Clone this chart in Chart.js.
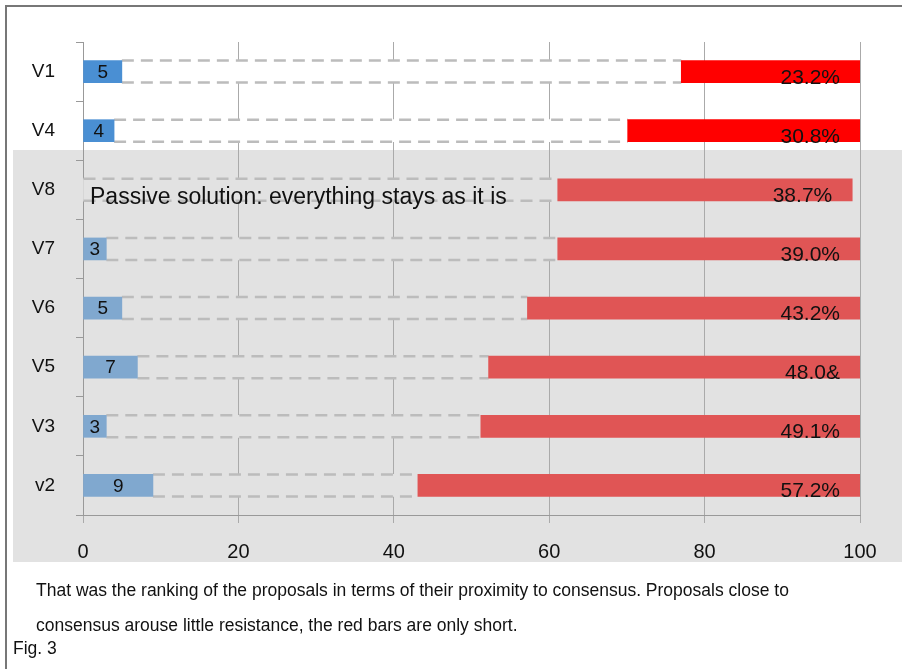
<!DOCTYPE html>
<html>
<head>
<meta charset="utf-8">
<script src="https://cdn.jsdelivr.net/npm/chart.js@4.4.0/dist/chart.umd.min.js"></script>
<style>
body{margin:0;background:#fff;font-family:"Liberation Sans",Arial,sans-serif;}
#wrap{position:relative;width:902px;height:669px;overflow:hidden;}
#frame{position:absolute;left:5px;top:5px;width:897px;height:664px;border-left:2px solid #777;border-top:2px solid #777;box-sizing:border-box;}
#shade{position:absolute;left:13px;top:150px;width:889px;height:412px;background:#e2e2e2;}
canvas{position:absolute;left:0;top:0;}
.cap{position:absolute;font-size:17.5px;line-height:17.5px;color:#111;white-space:nowrap;}
</style>
</head>
<body>
<div id="wrap">
  <div id="frame"></div>
  <div id="shade"></div>
  <canvas id="myChart" width="902" height="669"></canvas>
  <div class="cap" style="left:36px;top:582px">That was the ranking of the proposals in terms of their proximity to consensus. Proposals close to</div>
  <div class="cap" style="left:36px;top:617px">consensus arouse little resistance, the red bars are only short.</div>
  <div class="cap" style="left:13px;top:640px">Fig. 3</div>
</div>
<script>
// proposals, top to bottom
const labels = ['V1','V4','V8','V7','V6','V5','V3','v2'];
// blue bars (count), 0 = no bar
const blueVals = [5,4,0,3,5,7,3,9];
// red bars (resistance share), start and end
const redStart = [77.0,70.1,61.1,61.1,57.2,52.2,51.2,43.1];
const redEnd = [100,100,99,100,100,100,100,100];
const redLabels = ['23.2%','30.8%','38.7%','39.0%','43.2%','48.0&','49.1%','57.2%'];
const xTicks = [0,20,40,60,80,100];
const passiveRow = 'V8';
const passiveText = 'Passive solution: everything stays as it is';

const blueColors = labels.map((l,i)=> i<2 ? '#4a8fd3' : '#80a8cf');
const redColors = labels.map((l,i)=> i<2 ? '#ff0000' : '#e05555');
const gapFill = labels.map((l,i)=> i<2 ? '#ffffff' : '#e2e2e2');

Chart.defaults.font.family = '"Liberation Sans", Arial, sans-serif';

// dashed top/bottom edges of the gap bars
const dashEdges = {
    id:'dashEdges',
    afterDatasetDraw(chart,args){
        if (args.index!==2) return;
        let c=chart.ctx;
        c.save();
        c.strokeStyle='#bcbcbc';
        c.lineWidth=2.5;
        c.setLineDash([12,7]);
        args.meta.data.forEach(bar=>{
            let p=bar.getProps(['x','y','base','height'],true);
            let top=p.y-p.height/2, bot=p.y+p.height/2;
            let l=Math.min(p.x,p.base), r=Math.max(p.x,p.base);
            c.beginPath();
            c.moveTo(l,top); c.lineTo(r,top);
            c.moveTo(l,bot); c.lineTo(r,bot);
            c.stroke();
        });
        c.restore();
    }
};

const barText = {
    id:'barText',
    afterDatasetsDraw(chart){
        let c=chart.ctx;
        c.save();
        c.fillStyle='#111';
        // blue numbers
        c.font='19px "Liberation Sans", Arial';
        c.textAlign='center';
        c.textBaseline='middle';
        chart.getDatasetMeta(0).data.forEach((bar,i)=>{
            if (!blueVals[i]) return;
            let p=bar.getProps(['x','y','base'],true);
            c.fillText(String(blueVals[i]),(p.x+p.base)/2,p.y+1);
        });
        // red percentages
        c.font='21px "Liberation Sans", Arial';
        c.textAlign='right';
        c.textBaseline='alphabetic';
        chart.getDatasetMeta(1).data.forEach((bar,i)=>{
            let p=bar.getProps(['x','y','height'],true);
            c.fillText(redLabels[i],p.x-20,p.y+p.height/2+1);
        });
        // passive note
        c.font='23px "Liberation Sans", Arial';
        c.textAlign='left';
        let yy=chart.scales.y.getPixelForValue(labels.indexOf(passiveRow));
        c.fillText(passiveText,chart.scales.x.getPixelForValue(0)+7,yy+14);
        c.restore();
    }
};

let mychart=document.getElementById('myChart').getContext('2d');
let chart = new Chart(mychart,{
    type:'bar',
    data:{
        labels:labels,
        datasets:[{
            label:'votes',
            data:blueVals.map(v=> v ? [0,v] : null),
            backgroundColor:blueColors,
            order:1
        },{
            label:'resistance',
            data:redStart.map((s,i)=>[s,redEnd[i]]),
            backgroundColor:redColors,
            order:1
        },{
            label:'gap',
            data:redStart.map((s,i)=>[blueVals[i],s]),
            backgroundColor:gapFill,
            order:2
        }]
    },
    options:{
        indexAxis:'y',
        responsive:false,
        animation:false,
        datasets:{bar:{grouped:false,barThickness:22}},
        layout:{padding:{top:42,right:42,bottom:104,left:0}},
        plugins:{legend:{display:false},tooltip:{enabled:false}},
        scales:{
            x:{
                min:0,max:100,
                afterBuildTicks:s=>{ s.ticks=xTicks.map(v=>({value:v})); },
                afterFit:s=>{ s.height=50; },
                grid:{color:'#aaaaaa',lineWidth:1,tickLength:8,drawTicks:true},
                border:{display:true,color:'#999999',width:1},
                ticks:{padding:17,color:'#111',font:{size:20}}
            },
            y:{
                afterFit:s=>{ s.width=83; },
                grid:{offset:true,drawOnChartArea:false,tickLength:7,color:'#999999'},
                border:{display:true,color:'#999999',width:1},
                ticks:{padding:21,color:'#111',font:{size:19}}
            }
        }
    },
    plugins:[dashEdges,barText]
});
</script>
</body>
</html>
